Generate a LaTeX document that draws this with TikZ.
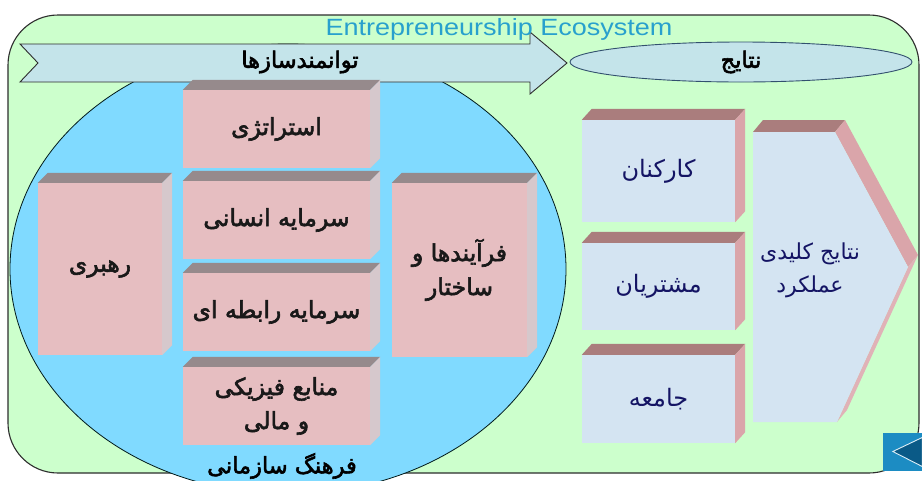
\documentclass[tikz,border=0pt]{standalone}
\usepackage{fontspec}
\usepackage{graphicx}
\usetikzlibrary{shapes.geometric}
\TeXXeTstate=1
\newfontfamily\fa[Script=Arabic]{DejaVu Sans}
\newfontfamily\fab[Script=Arabic,FakeBold=2.6]{DejaVu Sans}
\newfontfamily\titlefont{Liberation Sans}
\definecolor{outergreen}{RGB}{204,255,204}
\definecolor{skyfill}{RGB}{128,218,255}
\definecolor{bannerfill}{RGB}{196,228,234}
\definecolor{pinkfront}{RGB}{230,190,193}
\definecolor{pinktop}{RGB}{150,138,140}
\definecolor{pinkside}{RGB}{214,200,204}
\definecolor{bluefront}{RGB}{212,228,242}
\definecolor{bluetop}{RGB}{170,125,125}
\definecolor{blueside}{RGB}{218,165,170}
\definecolor{navytext}{RGB}{20,20,100}
\definecolor{titleblue}{RGB}{40,160,205}
\definecolor{btnblue}{RGB}{28,140,195}
\definecolor{btndark}{RGB}{10,90,135}
\definecolor{edgegray}{RGB}{45,45,45}
\definecolor{ovaledge}{RGB}{50,80,110}
\newcommand{\cubefaces}[5]{%
  \fill[#2] (#1.north west) -- ++(#4,-#5) -- ([shift={(#4,-#5)}]#1.north east) -- (#1.north east) -- cycle;
  \fill[#3] (#1.north east) -- ++(#4,-#5) -- ([shift={(#4,-#5)}]#1.south east) -- (#1.south east) -- cycle;}
\tikzset{
  pinkbox/.style={inner sep=0pt, align=center, fill=pinkfront, text=black!90,
    font=\fab\fontsize{23.5}{34}\selectfont},
  bluebox/.style={inner sep=0pt, align=center, fill=bluefront, text=navytext,
    font=\fa\fontsize{24}{33}\selectfont},
  headtext/.style={inner sep=0pt, text=black, font=\fab\fontsize{22.5}{26}\selectfont},
}
\begin{document}
\begin{tikzpicture}[x=1pt,y=-1pt]
\clip (0,0) rectangle (922,480);
\fill[white] (0,0) rectangle (922,480);
% outer ecosystem frame
\draw[fill=outergreen, draw=edgegray, line width=1.1pt, rounded corners=50pt] (8,15) rectangle (919,473);
% organisational culture ellipse
\draw[fill=skyfill, draw=black!80!teal, line width=0.8pt] (288,269) ellipse [x radius=278, y radius=225];
\node[headtext] (culture) at (282,466) {\beginR فرهنگ سازمانی\endR};
% enablers banner arrow
\draw[fill=bannerfill, draw=edgegray, line width=0.9pt]
  (20,44) -- (530,44) -- (530,32) -- (567,63) -- (530,94) -- (530,82) -- (20,82) -- (38,63) -- cycle;
\node[headtext] (enablers) at (300,62) {\beginR توانمندسازها\endR};
% results oval
\node[ellipse, draw=ovaledge, line width=0.9pt, fill=bannerfill, minimum width=342pt, minimum height=40pt,
  inner sep=0pt, font=\fab\fontsize{22.5}{26}\selectfont] (results) at (741,62) {\beginR نتایج\endR};
% enabler blocks
\node[pinkbox, minimum width=187pt, minimum height=78pt] (strat) at (276.5,129) {\beginR استراتژی\endR};
\node[pinkbox, minimum width=187pt, minimum height=78pt] (human) at (276.5,220) {\beginR سرمایه انسانی\endR};
\node[pinkbox, minimum width=187pt, minimum height=78pt] (relat) at (276.5,312) {\beginR سرمایه رابطه ای\endR};
\node[pinkbox, minimum width=187pt, minimum height=78pt] (finance) at (276.5,406) {\beginR منابع فیزیکی\endR\\\beginR و مالی\endR};
\node[pinkbox, minimum width=124pt, minimum height=172pt] (lead) at (100,269) {\beginR رهبری\endR};
\node[pinkbox, minimum width=135pt, minimum height=174pt] (proc) at (459.5,270) {\beginR فرآیندها و\endR\\\beginR ساختار\endR};
\cubefaces{strat}{pinktop}{pinkside}{10}{10}
\cubefaces{human}{pinktop}{pinkside}{10}{10}
\cubefaces{relat}{pinktop}{pinkside}{10}{10}
\cubefaces{finance}{pinktop}{pinkside}{10}{10}
\cubefaces{lead}{pinktop}{pinkside}{10}{10}
\cubefaces{proc}{pinktop}{pinkside}{10}{10}
% result blocks
\node[bluebox, minimum width=153pt, minimum height=102pt] (staff) at (658.5,171) {\beginR کارکنان\endR};
\node[bluebox, minimum width=153pt, minimum height=87pt] (cust) at (658.5,286.5) {\beginR مشتریان\endR};
\node[bluebox, minimum width=153pt, minimum height=88pt] (soc) at (658.5,399) {\beginR جامعه\endR};
\cubefaces{staff}{bluetop}{blueside}{10}{11}
\cubefaces{cust}{bluetop}{blueside}{10}{11}
\cubefaces{soc}{bluetop}{blueside}{10}{11}
% key performance results pentagon
\coordinate (k1) at (753,132);
\coordinate (k2) at (835,132);
\coordinate (k3) at (908,267);
\coordinate (k4) at (837,422);
\coordinate (k5) at (753,422);
\fill[bluetop] (k1) -- ++(10,-12) -- ([shift={(10,-12)}]k2) -- (k2) -- cycle;
\fill[blueside] (k2) -- ++(10,-12) -- ([shift={(10,-12)}]k3) -- (k3) -- cycle;
\fill[blueside!85!white] (k3) -- ++(10,-12) -- ([shift={(10,-12)}]k4) -- (k4) -- cycle;
\fill[bluefront] (k1) -- (k2) -- (k3) -- (k4) -- (k5) -- cycle;
\node[align=center, inner sep=0pt, text=navytext, font=\fa\fontsize{22}{33}\selectfont] (kpi) at (810,270)
  {\beginR نتایج کلیدی\endR\\\beginR عملکرد\endR};
% navigation button
\node[fill=btnblue, minimum width=39pt, minimum height=38pt, inner sep=0pt] (btn) at (902.5,451.5) {};
\filldraw[fill=btndark, draw=white!85!btnblue, line width=0.9pt]
  ([xshift=10pt]btn.west) -- ([yshift=14pt]btn.east) -- ([yshift=-15pt]btn.east) -- cycle;
% title
\node[anchor=base, inner sep=0pt, text=titleblue, font=\titlefont\fontsize{23.5}{26}\selectfont] (title) at (499,35)
  {\scalebox{1.15}[1]{Entrepreneurship Ecosystem}};
\end{tikzpicture}
\end{document}
